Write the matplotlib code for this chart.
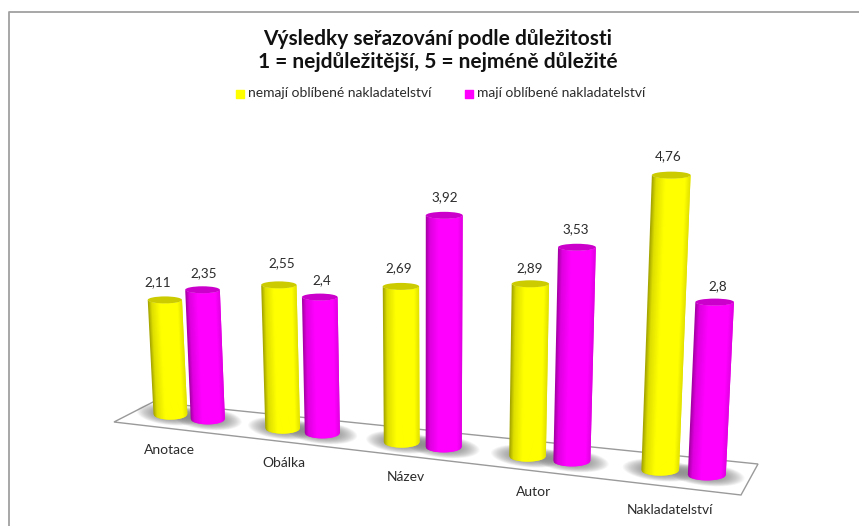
from __future__ import annotations

import numpy as np
import matplotlib.pyplot as plt
from matplotlib.colors import LinearSegmentedColormap
from matplotlib.patches import Ellipse, Polygon

categories = ["Anotace", "Obálka", "Název", "Autor", "Nakladatelství"]
no_favourite = [2.11, 2.55, 2.69, 2.89, 4.76]
has_favourite = [2.35, 2.4, 3.92, 3.53, 2.8]
no_favourite_labels = ["2,11", "2,55", "2,69", "2,89", "4,76"]
has_favourite_labels = ["2,35", "2,4", "3,92", "3,53", "2,8"]
series_names = ["nemají oblíbené nakladatelství", "mají oblíbené nakladatelství"]
title_lines = "Výsledky seřazování podle důležitosti\n1 = nejdůležitější, 5 = nejméně důležité"

W, H = 859, 526
TEXT = "#2b2b2b"

plt.rcParams["font.family"] = ["Lato", "DejaVu Sans"]


def floor_xy(p):
    # where a category position lands on the tilted floor
    return 189 + 110 * p + 3.4 * p**2, 416.5 + 14 * p


def unit_height(p):
    return 57 + 1.6 * p


def bar_width(p):
    return 34 + 0.95 * p


def top_xy(p, v):
    x, y = floor_xy(p)
    return x + (x - 430) * 0.0101 * v, y + 5.5 - unit_height(p) * v


def shading(base, dark, edge):
    return LinearSegmentedColormap.from_list(
        "cyl", [(0, edge), (0.1, dark), (0.34, base), (0.85, base), (1, dark)]
    )


def draw_shadow(ax, p):
    x, y = floor_xy(p)
    w = bar_width(p)
    for k in np.linspace(1.05, 0.4, 20):
        ax.add_patch(Ellipse((x, y), w * 1.9 * k, 21 * k, angle=5.5,
                             fc="#7a7a7a", ec="none", alpha=0.06, zorder=2))


def draw_bar(ax, p, v, cmap, top_color):
    xb, yb = floor_xy(p)
    xt, yt = top_xy(p, v)
    wb = bar_width(p)
    wt = wb * (1 + 0.006 * v)
    z = 3 + p

    # even slices across the width, each overlapping the next two so no seams show
    u = np.linspace(-1, 1, 40)
    root = np.sqrt(1 - u**2)
    bottom_x = xb + wb / 2 * u
    bottom_y = yb + 5.5 * root
    top_x = xt + wt / 2 * u
    top_y = yt + 3.5 * root
    for i in range(len(u) - 1):
        end = min(i + 3, len(u))
        pts = np.vstack([
            np.column_stack([bottom_x[i:end], bottom_y[i:end]]),
            np.column_stack([top_x[i:end], top_y[i:end]])[::-1],
        ])
        shade = (u[i] + 1) / 2
        ax.add_patch(Polygon(pts, closed=True, fc=cmap(shade), ec="none", zorder=z))
    ax.add_patch(Ellipse((xt, yt), wt, 7, fc=top_color, ec="none", zorder=z + 0.1))


fig = plt.figure(figsize=(W / 100, H / 100), dpi=100)
ax = fig.add_axes([0, 0, 1, 1])
ax.set_xlim(0, W)
ax.set_ylim(H, 0)
ax.axis("off")

# chart frame, open on the right and at the bottom
ax.plot([8.5, 8.5, W], [H, 11.5, 11.5], color="#a0a0a0", lw=1.3, zorder=1)

# floor of the 3D plot
ax.add_patch(Polygon([(114, 422), (153, 402), (758, 464), (741, 495)],
                     closed=True, fc="white", ec="#9a9a9a", lw=1, zorder=1))

yellow = shading("#ffff00", "#dede00", "#a6a600")
magenta = shading("#ff00ff", "#de00de", "#a600a6")

# label nudges away from the bar tops
no_fav_dx = [-7, 3, -2, -1, -3]
no_fav_dy = [-18, -22, -18, -16, -19]
has_fav_dx = [1, 2, 0, -1, 3]
has_fav_dy = [-17, -17, -18, -18, -16]

for i, name in enumerate(categories):
    p_a, p_b = i - 0.17, i + 0.17
    draw_shadow(ax, p_a)
    draw_shadow(ax, p_b)
    draw_bar(ax, p_a, no_favourite[i], yellow, "#cbcb00")
    draw_bar(ax, p_b, has_favourite[i], magenta, "#cb00cb")

    xa, ya = top_xy(p_a, no_favourite[i])
    xb, yb = top_xy(p_b, has_favourite[i])
    ax.text(xa + no_fav_dx[i], ya + no_fav_dy[i], no_favourite_labels[i], ha="center",
            va="center", fontsize=9.7, color=TEXT, zorder=20)
    ax.text(xb + has_fav_dx[i], yb + has_fav_dy[i], has_favourite_labels[i], ha="center",
            va="center", fontsize=9.7, color=TEXT, zorder=20)

label_xy = [(169, 450), (284, 463), (406, 477), (534, 492), (670, 510)]
for name, (lx, ly) in zip(categories, label_xy):
    ax.text(lx, ly, name, ha="center", va="center", fontsize=10, color=TEXT)

ax.text(438, 50.5, title_lines, ha="center", va="center", fontsize=15,
        fontweight="bold", color="#111111", linespacing=1.15)

# legend
ax.scatter([240], [93.5], marker="s", s=36, color="#ffff00", zorder=5)
ax.text(248, 93, series_names[0], ha="left", va="center", fontsize=10, color=TEXT)
ax.scatter([469], [93.5], marker="s", s=36, color="#ff00ff", zorder=5)
ax.text(477, 93, series_names[1], ha="left", va="center", fontsize=10, color=TEXT)

fig.savefig("out.png", dpi=100)
